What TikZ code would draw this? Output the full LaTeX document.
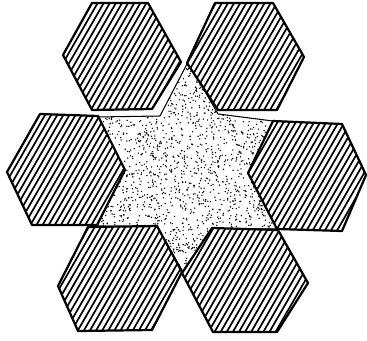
\documentclass[tikz,border=0pt]{standalone}
\usetikzlibrary{calc}
\begin{document}
\begin{tikzpicture}[x=0.03cm, y=-0.03cm,
    hexline/.style={line width=1.9pt, line join=round},
    hatchline/.style={line width=1.45pt},
    starline/.style={line width=0.9pt, line join=round},
    stipple/.style={fill=black}]
  \useasboundingbox (0,0) rectangle (367,341);
  % stippled star
  \begin{scope}
    \clip (188,62) -- (218,114) -- (273,121) -- (248,173) -- (277,229) -- (212,229)
      -- (183,272) -- (157,227) -- (97,226) -- (125,170) -- (97,117) -- (160,116) -- cycle;
    \pgfmathsetseed{41}
    \foreach \i in {1,...,2300}
      \fill[stipple] (97+180*rnd, 62+211*rnd) circle[radius=0.66pt];
  \end{scope}
  \draw[starline] (188,62) -- (218,114) -- (273,121) -- (248,173) -- (277,229) -- (212,229)
    -- (183,272) -- (157,227) -- (97,226) -- (125,170) -- (97,117) -- (160,116) -- cycle;
  % hatched hexagons
  \foreach \a/\b/\c/\d/\e/\f in {%
      {92,3}/{148,3}/{181,62}/{152,109}/{92,110}/{63,55},
      {215,3}/{273,3}/{304,57}/{277,110}/{218,110}/{187,63},
      {40,114}/{98,116}/{125,170}/{97,225}/{32,225}/{7,172},
      {273,121}/{342,124}/{366,175}/{342,231}/{277,229}/{248,173},
      {88,227}/{157,226}/{182,272}/{152,330}/{78,331}/{58,286},
      {212,228}/{278,230}/{308,283}/{277,332}/{213,332}/{182,273}} {%
    \coordinate (hc) at ($(\a)!0.5!(\d)$);
    \fill[white] (\a) -- (\b) -- (\c) -- (\d) -- (\e) -- (\f) -- cycle;
    \begin{scope}
      \clip (\a) -- (\b) -- (\c) -- (\d) -- (\e) -- (\f) -- cycle;
      \foreach \k in {-16,...,16}
        \draw[hatchline] ($(hc)+(\k*6.1-45,78)$) -- ++(90,-156);
    \end{scope}
    \draw[hexline] (\a) -- (\b) -- (\c) -- (\d) -- (\e) -- (\f) -- cycle;
  }
\end{tikzpicture}
\end{document}
